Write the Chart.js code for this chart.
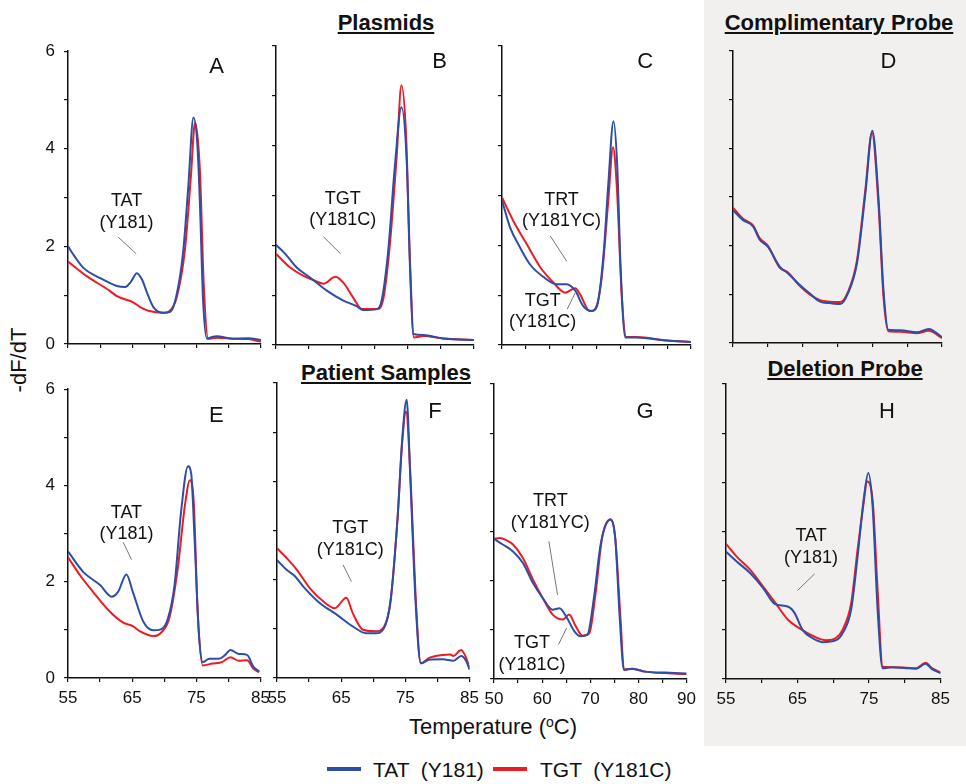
<!DOCTYPE html>
<html>
<head>
<meta charset="utf-8">
<script src="https://cdn.jsdelivr.net/npm/chart.js@4.4.1/dist/chart.umd.min.js"></script>
<style>
  body { margin: 0; width: 966px; height: 784px; position: relative; overflow: hidden; background: #fff;
         font-family: "Liberation Sans", Arial, sans-serif; color: #111; }
  .shade { position: absolute; left: 704px; top: 0; width: 262px; height: 746px; background: #f2f0ee; }
  canvas { position: absolute; }
  .title { position: absolute; font-weight: bold; font-size: 22px; line-height: 22px; text-decoration: underline;
           white-space: nowrap; transform: translateX(-50%); }
  .ylab { position: absolute; left: 19px; top: 360px; font-size: 22px; line-height: 22px; white-space: nowrap;
          transform: translate(-50%, -50%) rotate(-90deg); }
  .xlab { position: absolute; left: 493px; top: 716px; font-size: 22px; line-height: 22px; white-space: nowrap;
          transform: translateX(-50%); }
  .xlab sup { font-size: 14px; vertical-align: 7px; line-height: 0; }
  .legend { position: absolute; top: 759px; font-size: 21px; line-height: 21px; white-space: pre; }
  .swatch { position: absolute; top: 767px; width: 34px; height: 4px; }
</style>
</head>
<body>
<div class="shade"></div>
<div class="title" style="left:386px;top:12px">Plasmids</div>
<div class="title" style="left:839px;top:12px">Complimentary Probe</div>
<div class="title" style="left:386px;top:362px">Patient Samples</div>
<div class="title" style="left:845px;top:358px">Deletion Probe</div>
<div class="ylab">-dF/dT</div>
<div class="xlab">Temperature (<sup>o</sup>C)</div>
<div class="swatch" style="left:327px;background:#2b4ea6"></div>
<div class="legend" style="left:373px">TAT  (Y181)</div>
<div class="swatch" style="left:493px;background:#ec1c24"></div>
<div class="legend" style="left:540px">TGT  (Y181C)</div>

<script>
// series labels
const seriesNames = ["TAT (Y181)", "TGT (Y181C)"];
const yTicks = [0, 1, 2, 3, 4, 5, 6];

// A - plasmids
const aTatTemp = [55, 56, 57.4, 60, 62.6, 63.9, 64.8, 65.7, 66.5, 67.2, 68.3, 69.8, 70.9, 71.9, 72.9, 73.7, 74.5, 75.1, 75.5, 76.0, 76.6, 77.3, 78.1, 80.7, 83, 85];
const aTatVal = [2.0, 1.8, 1.56, 1.35, 1.19, 1.17, 1.28, 1.45, 1.32, 1.08, 0.75, 0.64, 0.66, 1.02, 1.89, 3.23, 4.64, 4.1, 2.9, 0.89, 0.11, 0.14, 0.16, 0.11, 0.12, 0.08];
const aTgtTemp = [55, 57.9, 61.5, 62.6, 65.2, 66.3, 67.5, 69.8, 70.6, 71.9, 73.2, 74.1, 74.75, 75.5, 76.1, 76.8, 78.1, 80.7, 83, 85];
const aTgtVal = [1.69, 1.39, 1.09, 0.98, 0.85, 0.75, 0.68, 0.64, 0.66, 0.96, 1.96, 3.43, 4.54, 3.57, 1.22, 0.11, 0.13, 0.11, 0.1, 0.05];

// B - plasmids
const bTatTemp = [55, 56.4, 58.1, 60.2, 62.7, 65.2, 67.2, 68.2, 70.3, 71.0, 72.0, 73.0, 74.0, 74.8, 75.3, 75.8, 77.3, 80.3, 85];
const bTatVal = [2.01, 1.83, 1.56, 1.35, 1.09, 0.89, 0.78, 0.70, 0.72, 0.89, 1.89, 3.57, 4.77, 3.70, 1.56, 0.22, 0.20, 0.13, 0.10];
const bTgtTemp = [55, 57.1, 59.1, 60.7, 62.2, 64.0, 65.2, 66.7, 68.0, 70.3, 71.3, 72.3, 73.3, 74.0, 74.7, 75.3, 75.9, 77.3, 80.3, 85];
const bTgtVal = [1.83, 1.56, 1.39, 1.30, 1.23, 1.37, 1.25, 0.95, 0.72, 0.72, 0.95, 2.09, 3.82, 5.21, 4.24, 1.69, 0.15, 0.18, 0.13, 0.10];

// C - plasmids (mixed)
const cTatTemp = [50, 51.7, 53.8, 55.9, 58.7, 61.6, 63.7, 65.5, 67.2, 69.0, 70.1, 71.5, 72.5, 73.6, 74.4, 75.1, 76.1, 78.5, 84.9, 90];
const cTatVal = [2.90, 2.36, 1.96, 1.62, 1.37, 1.22, 1.22, 1.09, 0.78, 0.68, 0.78, 1.83, 3.23, 4.49, 3.57, 1.56, 0.15, 0.15, 0.09, 0.06];
const cTgtTemp = [50, 52.4, 55.2, 58.1, 60.9, 63.4, 65.5, 66.5, 68.6, 69.7, 71.1, 72.5, 73.5, 74.3, 75.4, 76.3, 78.5, 84.9, 90];
const cTgtVal = [2.96, 2.49, 2.03, 1.56, 1.25, 1.05, 1.14, 1.02, 0.68, 0.72, 1.35, 2.90, 3.97, 3.17, 0.89, 0.16, 0.16, 0.09, 0.06];

// D - complimentary probe
const dTatTemp = [55, 56.4, 57.9, 58.8, 60.0, 61.7, 62.9, 64.6, 66.0, 67.5, 68.9, 70.4, 71.5, 72.8, 74.0, 75.0, 75.9, 76.6, 77.3, 79.0, 81.4, 83.1, 85];
const dTatVal = [2.73, 2.53, 2.39, 2.13, 1.98, 1.57, 1.43, 1.19, 1.02, 0.85, 0.82, 0.80, 1.02, 1.64, 3.07, 4.36, 2.94, 1.09, 0.27, 0.26, 0.22, 0.29, 0.12];
const dTgtTemp = [55, 56.4, 57.9, 58.8, 60.0, 61.7, 62.9, 64.6, 66.0, 67.5, 68.9, 70.4, 71.5, 72.8, 74.0, 74.95, 75.9, 76.6, 77.3, 79.0, 81.4, 83.1, 85];
const dTgtVal = [2.78, 2.56, 2.41, 2.16, 2.0, 1.55, 1.45, 1.17, 1.0, 0.88, 0.85, 0.84, 1.05, 1.70, 3.15, 4.32, 2.80, 0.95, 0.24, 0.23, 0.20, 0.25, 0.10];

// E - patient samples
const eTatTemp = [55, 57.4, 60.0, 61.8, 62.8, 64.1, 65.1, 66.7, 68.3, 69.5, 70.6, 71.6, 72.6, 73.7, 74.2, 74.7, 75.4, 76.0, 77.0, 78.5, 79.5, 80.3, 81.6, 82.9, 83.9, 84.8];
const eTatVal = [2.63, 2.20, 1.93, 1.69, 1.79, 2.15, 1.79, 1.18, 0.99, 1.01, 1.25, 1.93, 3.43, 4.40, 4.24, 2.95, 0.91, 0.33, 0.40, 0.40, 0.48, 0.58, 0.50, 0.48, 0.23, 0.14];
const eTgtTemp = [55, 56.9, 58.9, 61.5, 63.6, 65.1, 66.1, 68.3, 69.5, 70.8, 72.1, 73.2, 74.0, 74.6, 75.2, 76.0, 77.5, 79.0, 80.3, 81.6, 82.9, 83.9, 84.8];
const eTgtVal = [2.51, 2.13, 1.79, 1.38, 1.15, 1.08, 0.98, 0.87, 0.94, 1.25, 2.27, 3.57, 4.11, 3.63, 1.38, 0.26, 0.30, 0.33, 0.43, 0.36, 0.37, 0.19, 0.12];

// F - patient samples
const fTatTemp = [55, 56.5, 57.8, 59.1, 61.7, 64.3, 66.8, 68.9, 70.4, 71.7, 72.7, 73.8, 74.5, 75.2, 75.8, 76.6, 77.4, 78.7, 80.8, 82.5, 83.7, 84.5, 85];
const fTatVal = [2.40, 2.20, 2.07, 1.86, 1.52, 1.29, 1.05, 0.91, 0.91, 1.02, 1.59, 3.28, 4.84, 5.66, 3.96, 1.52, 0.30, 0.37, 0.38, 0.35, 0.45, 0.34, 0.17];
const fTgtTemp = [55, 56.5, 58.1, 60.1, 62.2, 64.0, 65.8, 66.8, 68.4, 70.4, 71.7, 72.7, 73.8, 74.5, 75.1, 75.8, 76.6, 77.4, 78.7, 80.8, 82.0, 82.5, 83.7, 84.5, 85];
const fTgtVal = [2.64, 2.44, 2.20, 1.83, 1.56, 1.42, 1.63, 1.32, 0.98, 0.95, 1.05, 1.56, 3.28, 4.78, 5.42, 4.10, 1.66, 0.30, 0.41, 0.47, 0.48, 0.45, 0.57, 0.40, 0.19];

// G - patient samples (mixed)
const gTatTemp = [50, 51.9, 54.0, 56.0, 58.1, 60.1, 62.2, 63.6, 65.0, 66.7, 68.0, 69.4, 70.8, 72.2, 74.2, 75.2, 76.1, 77.0, 78.7, 81.4, 85.5, 90];
const gTatVal = [2.85, 2.73, 2.59, 2.36, 1.95, 1.65, 1.41, 1.44, 1.27, 0.97, 0.87, 0.90, 1.68, 2.76, 3.24, 2.85, 1.27, 0.19, 0.21, 0.15, 0.13, 0.11];
const gTgtTemp = [50, 51.2, 52.6, 54.0, 56.0, 58.1, 60.1, 62.2, 64.3, 65.6, 67.0, 68.4, 69.8, 71.1, 72.5, 74.2, 75.2, 76.3, 77.0, 78.7, 81.4, 90];
const gTgtVal = [2.85, 2.87, 2.82, 2.73, 2.46, 2.02, 1.65, 1.31, 1.21, 1.31, 1.07, 0.88, 0.93, 1.74, 2.90, 3.25, 2.85, 1.20, 0.19, 0.21, 0.15, 0.10];

// H - deletion probe
const hTatTemp = [55, 56.5, 58.4, 60.2, 61.8, 63.7, 64.6, 65.7, 67.1, 68.5, 70.4, 71.3, 72.5, 73.4, 74.3, 74.9, 75.5, 76.2, 76.9, 78.3, 80.2, 81.6, 82.9, 83.8, 85];
const hTatVal = [2.59, 2.39, 2.15, 1.85, 1.53, 1.47, 1.34, 1.00, 0.83, 0.75, 0.79, 0.93, 1.41, 2.49, 3.71, 4.19, 3.51, 1.41, 0.22, 0.24, 0.22, 0.21, 0.31, 0.20, 0.12];
const hTgtTemp = [55, 56.5, 58.4, 60.2, 61.8, 63.7, 65.3, 67.1, 69.0, 70.4, 71.3, 72.5, 73.4, 74.3, 74.7, 75.5, 76.2, 76.9, 78.3, 80.2, 81.6, 82.9, 83.8, 85];
const hTgtVal = [2.75, 2.49, 2.22, 1.88, 1.57, 1.20, 1.03, 0.88, 0.79, 0.84, 1.0, 1.54, 2.63, 3.64, 4.02, 3.64, 1.81, 0.25, 0.24, 0.23, 0.22, 0.33, 0.22, 0.13];

(() => {
  const BLUE = "#2b4ea6";
  const RED = "#ec1c24";
  const INK = "#111";
  const FONT = "'Liberation Sans', Arial, sans-serif";
  const PAD = 14;

  /**
   * plot boxes (left, top, right, bottom in px), axis range, labels, notes
   */
  const panels = [
    { letter: "A", box: [68, 46, 261, 344], x: [55, 85], tat: [aTatTemp, aTatVal], tgt: [aTgtTemp, aTgtVal],
      showY: true, showX: false, letterAt: [78.1, 5.68],
      notes: [{ at: [64.1, 2.92], lines: ["TAT", "(Y181)"], leader: [62.8, 2.19, 65.6, 1.85] }] },
    { letter: "B", box: [276, 46, 474, 345], x: [55, 85], tat: [bTatTemp, bTatVal], tgt: [bTgtTemp, bTgtVal],
      showY: false, showX: false, letterAt: [79.8, 5.68],
      notes: [{ at: [65.1, 2.93], lines: ["TGT", "(Y181C)"], leader: [62.2, 2.17, 64.8, 1.83] }] },
    { letter: "C", box: [502, 46, 691, 345], x: [50, 90], tat: [cTatTemp, cTatVal], tgt: [cTgtTemp, cTgtVal],
      showY: false, showX: false, letterAt: [80.3, 5.68],
      notes: [
        { at: [62.6, 2.91], lines: ["TRT", "(Y181YC)"], leader: [60.2, 2.19, 63.7, 1.68] },
        { at: [58.6, 0.89], lines: ["TGT", "(Y181C)"], leader: [63.8, 0.72, 65.5, 1.05] },
      ] },
    { letter: "D", box: [733, 51, 942, 343], x: [55, 85], tat: [dTatTemp, dTatVal], tgt: [dTgtTemp, dTgtVal],
      showY: false, showX: false, letterAt: [77.3, 5.77], notes: [] },
    { letter: "E", box: [68, 384, 262, 678], x: [55, 85], tat: [eTatTemp, eTatVal], tgt: [eTgtTemp, eTgtVal],
      showY: true, showX: true, letterAt: [78.1, 5.44],
      notes: [{ at: [64.1, 3.43], lines: ["TAT", "(Y181)"], leader: [63.6, 2.82, 64.9, 2.46] }] },
    { letter: "F", box: [277, 383, 471, 678], x: [55, 85], tat: [fTatTemp, fTatVal], tgt: [fTgtTemp, fTgtVal],
      showY: false, showX: true, letterAt: [79.6, 5.42],
      notes: [{ at: [66.4, 3.05], lines: ["TGT", "(Y181C)"], leader: [65.3, 2.30, 66.6, 1.96] }] },
    { letter: "G", box: [494, 384, 688, 679], x: [50, 90], tat: [gTatTemp, gTatVal], tgt: [gTgtTemp, gTgtVal],
      showY: false, showX: true, letterAt: [81.4, 5.44],
      notes: [
        { at: [61.7, 3.61], lines: ["TRT", "(Y181YC)"], leader: [61.4, 2.80, 63.2, 1.71] },
        { at: [57.9, 0.73], lines: ["TGT", "(Y181C)"], leader: [63.4, 0.70, 65.1, 1.04] },
      ] },
    { letter: "H", box: [726, 384, 942, 679], x: [55, 85], tat: [hTatTemp, hTatVal], tgt: [hTgtTemp, hTgtVal],
      showY: false, showX: true, letterAt: [77.5, 5.44],
      notes: [{ at: [66.9, 2.90], lines: ["TAT", "(Y181)"], leader: [67.4, 2.14, 65.0, 1.80] }] },
  ];

  /**
   * @param {Array} temps
   * @param {Array} vals
   * @returns Array
   */
  const toPoints = (temps, vals) => temps.map((t, i) => ({ x: t, y: vals[i] }));

  // draws panel letter, annotation text and leader lines in data coordinates
  const notesPlugin = {
    id: "notes",
    afterDatasetsDraw(chart) {
      const p = chart.config.options.plugins.notes.panel;
      const xs = chart.scales.x;
      const ys = chart.scales.y;
      const ctx = chart.ctx;
      ctx.save();
      ctx.fillStyle = INK;
      ctx.textAlign = "center";
      ctx.textBaseline = "middle";
      ctx.font = `22px ${FONT}`;
      ctx.fillText(p.letter, xs.getPixelForValue(p.letterAt[0]), ys.getPixelForValue(p.letterAt[1]));
      ctx.font = `18px ${FONT}`;
      p.notes.forEach((n) => {
        const cx = xs.getPixelForValue(n.at[0]);
        const cy = ys.getPixelForValue(n.at[1]);
        n.lines.forEach((line, i) => ctx.fillText(line, cx, cy + i * 21.5));
        ctx.strokeStyle = "#777";
        ctx.lineWidth = 1;
        ctx.beginPath();
        ctx.moveTo(xs.getPixelForValue(n.leader[0]), ys.getPixelForValue(n.leader[1]));
        ctx.lineTo(xs.getPixelForValue(n.leader[2]), ys.getPixelForValue(n.leader[3]));
        ctx.stroke();
      });
      ctx.restore();
    },
  };

  /**
   * @param {Object} p panel description
   */
  const generatePanel = (p) => {
    const [l, t, r, b] = p.box;
    const canvas = document.createElement("canvas");
    canvas.setAttribute("id", `chart${p.letter}`);
    canvas.width = r - l + 50 + PAD;
    canvas.height = b - t + 30 + PAD;
    canvas.style.left = `${l - 50}px`;
    canvas.style.top = `${t - PAD}px`;
    document.body.appendChild(canvas);

    const line = (pts, color, name) => ({
      label: name,
      data: pts,
      borderColor: color,
      backgroundColor: color,
      borderWidth: 2,
      pointRadius: 0,
      cubicInterpolationMode: "monotone",
      fill: false,
    });

    new Chart(canvas.getContext("2d"), {
      type: "line",
      data: {
        datasets: [
          line(toPoints(p.tat[0], p.tat[1]), BLUE, seriesNames[0]),
          line(toPoints(p.tgt[0], p.tgt[1]), RED, seriesNames[1]),
        ],
      },
      options: {
        responsive: false,
        animation: false,
        events: [],
        layout: { padding: { top: PAD, right: PAD, left: 0, bottom: 0 } },
        plugins: { legend: { display: false }, tooltip: { enabled: false }, notes: { panel: p } },
        scales: {
          x: {
            type: "linear",
            min: p.x[0],
            max: p.x[1],
            afterFit: (s) => { s.height = 30; },
            border: { color: INK, width: 1.5 },
            grid: { drawOnChartArea: false, drawTicks: true, tickLength: 4, color: INK, lineWidth: 1.2 },
            ticks: {
              display: p.showX,
              stepSize: 5,
              autoSkip: false,
              maxRotation: 0,
              padding: 6,
              color: INK,
              font: { family: FONT, size: 17 },
              callback: (v) => ((v - p.x[0]) % 10 === 0 ? String(v) : ""),
            },
          },
          y: {
            min: 0,
            max: 6,
            afterFit: (s) => { s.width = 50; },
            afterBuildTicks: (s) => { s.ticks = yTicks.map((v) => ({ value: v })); },
            border: { color: INK, width: 1.5 },
            grid: { drawOnChartArea: false, drawTicks: true, tickLength: 4, color: INK, lineWidth: 1.2 },
            ticks: {
              display: p.showY,
              autoSkip: false,
              padding: 9,
              color: INK,
              font: { family: FONT, size: 17 },
              callback: (v) => (v % 2 === 0 ? String(v) : ""),
            },
          },
        },
      },
      plugins: [notesPlugin],
    });
  };

  panels.forEach(generatePanel);
})();
</script>
</body>
</html>
